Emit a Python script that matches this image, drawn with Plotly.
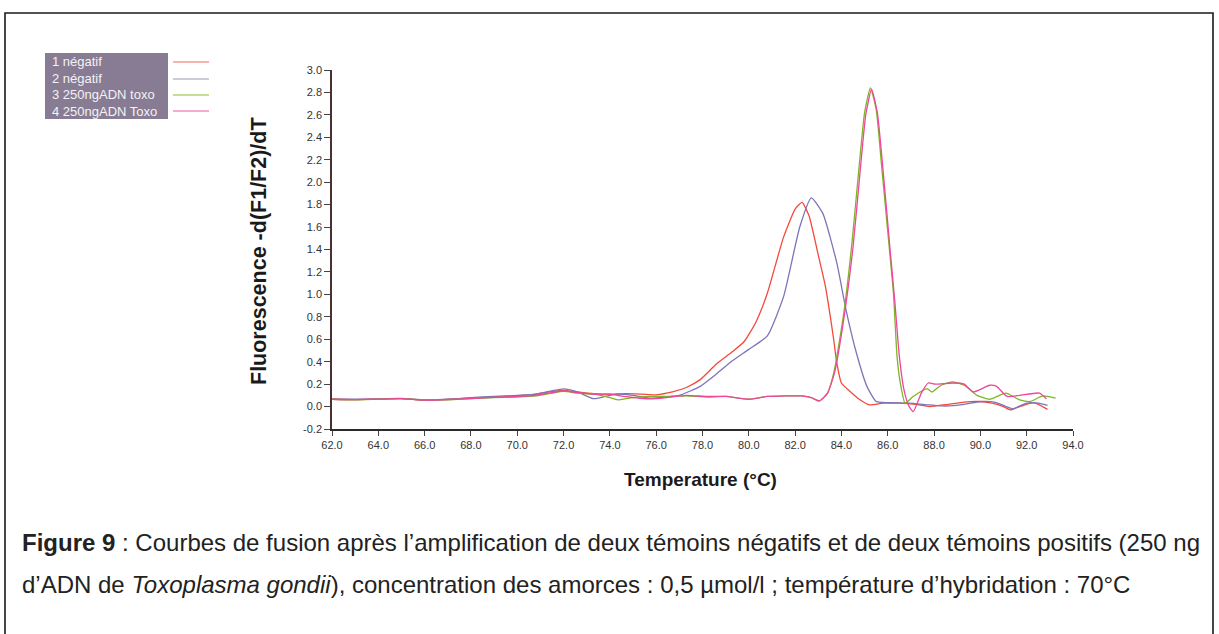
import plotly.graph_objects as go

# ---------------- data ----------------
series_names = ["1 négatif", "2 négatif", "3 250ngADN toxo", "4 250ngADN Toxo"]

x_red = [62.0, 63.0, 64.0, 65.0, 66.0, 67.0, 68.0, 69.0, 70.0, 70.8, 71.5, 72.0, 72.6, 73.3,
         74.0, 74.7, 75.4, 76.0, 76.7, 77.3, 77.9, 78.6, 79.3, 79.8, 80.3, 80.8, 81.5, 82.0,
         82.3, 82.6, 83.0, 83.3, 83.65, 83.8, 84.0, 84.4, 84.8, 85.2, 85.8, 86.5, 87.2, 87.8,
         88.6, 89.3, 89.9, 90.5, 91.0, 91.3, 91.7, 92.3, 92.9]
y_red = [0.065, 0.062, 0.068, 0.072, 0.055, 0.065, 0.075, 0.085, 0.095, 0.11, 0.135, 0.145,
         0.13, 0.115, 0.11, 0.115, 0.11, 0.105, 0.13, 0.17, 0.24, 0.38, 0.49, 0.58, 0.75, 1.01,
         1.51, 1.76, 1.82, 1.70, 1.35, 1.08, 0.62, 0.39, 0.21, 0.13, 0.06, 0.015, 0.03, 0.03,
         0.02, 0.0, 0.02, 0.04, 0.045, 0.03, 0.0, -0.03, 0.0, 0.035, -0.025]

x_blue = [62.0, 63.0, 64.0, 65.0, 66.0, 67.0, 68.0, 69.0, 70.0, 70.8, 71.5, 72.0, 72.6, 73.3,
          73.8, 74.3, 75.0, 75.7, 76.4, 77.0, 77.9, 78.6, 79.3, 80.0, 80.8, 81.5, 82.2, 82.7,
          83.2, 83.8, 84.2, 84.65, 85.1, 85.5, 86.0, 86.9, 87.8, 88.5, 89.3, 90.0, 90.6, 91.0,
          91.4, 92.0, 92.5, 92.9]
y_blue = [0.065, 0.065, 0.068, 0.07, 0.06, 0.065, 0.08, 0.09, 0.10, 0.11, 0.14, 0.158, 0.13,
          0.07, 0.09, 0.11, 0.10, 0.075, 0.085, 0.10, 0.18, 0.29, 0.41, 0.51, 0.63, 0.98, 1.60,
          1.86, 1.72, 1.28, 0.86, 0.475, 0.18, 0.045, 0.035, 0.03, 0.015, 0.005, 0.02, 0.045,
          0.04, 0.01, -0.02, 0.03, 0.03, 0.01]

x_green = [62.0, 63.0, 64.0, 65.0, 66.0, 67.0, 68.0, 69.0, 70.0, 70.8, 71.5, 72.0, 72.6, 73.3,
           74.0, 74.4, 75.0, 75.8, 76.5, 77.3, 78.2, 79.0, 80.0, 80.8, 81.6, 82.3, 82.7, 83.05,
           83.4, 83.7, 84.1, 84.45, 84.75, 85.0, 85.25, 85.5, 85.75, 86.05, 86.25, 86.4, 86.55,
           86.75, 87.1, 87.7, 87.9, 88.3, 88.8, 89.3, 89.85, 90.4, 91.1, 91.7, 92.15, 92.7, 93.25]
y_green = [0.065, 0.06, 0.065, 0.07, 0.06, 0.06, 0.07, 0.08, 0.085, 0.095, 0.12, 0.135, 0.12,
           0.11, 0.08, 0.06, 0.08, 0.09, 0.09, 0.095, 0.085, 0.09, 0.065, 0.09, 0.095, 0.095,
           0.08, 0.05, 0.12, 0.33, 0.83, 1.45, 2.11, 2.62, 2.84, 2.65, 2.11, 1.45, 1.0, 0.45,
           0.2, 0.03, 0.09, 0.16, 0.13, 0.19, 0.22, 0.19, 0.10, 0.065, 0.12, 0.06, 0.045, 0.095,
           0.075]

x_pink = [62.0, 63.0, 64.0, 65.0, 66.0, 67.0, 68.0, 69.0, 70.0, 70.8, 71.5, 72.0, 72.6, 73.3,
          74.0, 74.6, 75.3, 76.0, 76.6, 77.3, 78.2, 79.0, 80.0, 80.8, 81.6, 82.3, 82.7, 83.05,
          83.4, 83.7, 84.1, 84.5, 84.8, 85.05, 85.3, 85.55, 85.8, 86.1, 86.3, 86.5, 86.7, 86.9,
          87.1, 87.45, 87.75, 88.05, 88.8, 89.3, 89.7, 90.4, 90.7, 91.15, 91.7, 92.55, 92.85]
y_pink = [0.065, 0.062, 0.066, 0.07, 0.058, 0.062, 0.072, 0.082, 0.09, 0.10, 0.125, 0.14, 0.125,
          0.11, 0.11, 0.09, 0.074, 0.07, 0.085, 0.10, 0.09, 0.09, 0.065, 0.09, 0.095, 0.095,
          0.08, 0.05, 0.12, 0.30, 0.78, 1.42, 2.08, 2.60, 2.83, 2.62, 2.10, 1.40, 0.95, 0.45,
          0.15, 0.01, -0.045, 0.12, 0.21, 0.20, 0.21, 0.20, 0.13, 0.19, 0.18, 0.09, 0.10, 0.12,
          0.07]

x_ticks = [62.0 + 2 * i for i in range(17)]
y_ticks = [round(-0.2 + 0.2 * i, 1) for i in range(17)]

colors = ["#f24a3c", "#7d74b8", "#7cb526", "#f0459a"]
legend_colors = ["#f06a5a", "#9a98b8", "#8cbc2c", "#ea5c9c"]

# ---------------- figure ----------------
W, H = 1219, 634
L, R, T, B = 332, 146, 70, 205
PW, PH = W - L - R, H - T - B


def px(x):
    return (x - L) / PW


def py(y):
    return (H - B - y) / PH


fig = go.Figure()
for xs, ys, c, n in zip([x_red, x_blue, x_green, x_pink], [y_red, y_blue, y_green, y_pink],
                        colors, series_names):
    fig.add_trace(go.Scatter(x=xs, y=ys, mode="lines", name=n,
                             line=dict(color=c, width=1.3, shape="spline", smoothing=0.5),
                             showlegend=False))

FONT = "Liberation Sans, Arial, sans-serif"
axis_font = dict(family=FONT, size=11, color="#333333")
fig.update_layout(
    width=W, height=H, autosize=False,
    margin=dict(l=L, r=R, t=T, b=B, pad=0),
    paper_bgcolor="white", plot_bgcolor="white",
    xaxis=dict(range=[62, 94], tickvals=x_ticks, ticktext=[f"{v:.1f}" for v in x_ticks],
               showgrid=False, zeroline=False, showline=True, linecolor="#2a2a2a", linewidth=2,
               ticks="outside", ticklen=5, tickwidth=1, tickcolor="#444444",
               tickfont=axis_font),
    yaxis=dict(range=[-0.2, 3.0], tickvals=y_ticks, ticktext=[f"{v:.1f}" for v in y_ticks],
               showgrid=False, zeroline=False, showline=True, linecolor="#4a3030", linewidth=1.5,
               ticks="outside", ticklen=6, tickwidth=1, tickcolor="#444444",
               tickfont=axis_font),
    font=dict(family=FONT),
)

annotations = []
# axis titles
annotations.append(dict(x=px(259), y=py(251), xref="paper", yref="paper",
                        xanchor="center", yanchor="middle",
                        text="<b>Fluorescence -d(F1/F2)/dT</b>", textangle=-90, showarrow=False,
                        font=dict(size=21.5, color="#1a1a1a")))
annotations.append(dict(x=px(700), y=py(479), xref="paper", yref="paper",
                        xanchor="center", yanchor="middle",
                        text="<b>Temperature (°C)</b>", showarrow=False,
                        font=dict(size=19, color="#1a1a1a")))
# legend texts
leg_y = [62, 79, 95, 111]
for n, yy in zip(series_names, leg_y):
    annotations.append(dict(x=px(50), y=py(yy), xref="paper", yref="paper", text=n,
                            xanchor="left", yanchor="middle", showarrow=False,
                            font=dict(size=13, color="#f4f2f6")))
# caption
cap_font = dict(size=24, color="#222222", family=FONT)
annotations.append(dict(x=px(20), y=py(542), xref="paper", yref="paper", xanchor="left",
                        yanchor="middle", showarrow=False, font=cap_font,
                        text="<b>Figure 9</b> : Courbes de fusion après l’amplification de deux témoins négatifs et de deux témoins positifs (250 ng"))
annotations.append(dict(x=px(20), y=py(584), xref="paper", yref="paper", xanchor="left",
                        yanchor="middle", showarrow=False, font=cap_font,
                        text="d’ADN de <i>Toxoplasma gondii</i>), concentration des amorces : 0,5 µmol/l ; température d’hybridation : 70°C"))
fig.update_layout(annotations=annotations)

shapes = []
# outer frame
shapes.append(dict(type="rect", xref="paper", yref="paper", x0=px(5), x1=px(1213), y0=py(650),
                   y1=py(13), line=dict(color="#1a1a1a", width=1.6), fillcolor="rgba(0,0,0,0)",
                   layer="below"))
# legend box
shapes.append(dict(type="rect", xref="paper", yref="paper", x0=px(45), x1=px(168), y0=py(119),
                   y1=py(53), line=dict(width=0), fillcolor="#877c93", layer="below"))
for c, yy in zip(legend_colors, leg_y):
    shapes.append(dict(type="line", xref="paper", yref="paper", x0=px(173), x1=px(209),
                       y0=py(yy), y1=py(yy), line=dict(color=c, width=1.2)))
fig.update_layout(shapes=shapes)

fig.write_html("out.html", config={"displayModeBar": False},
               post_script="document.body.style.margin='0';document.body.style.overflow='hidden';")
